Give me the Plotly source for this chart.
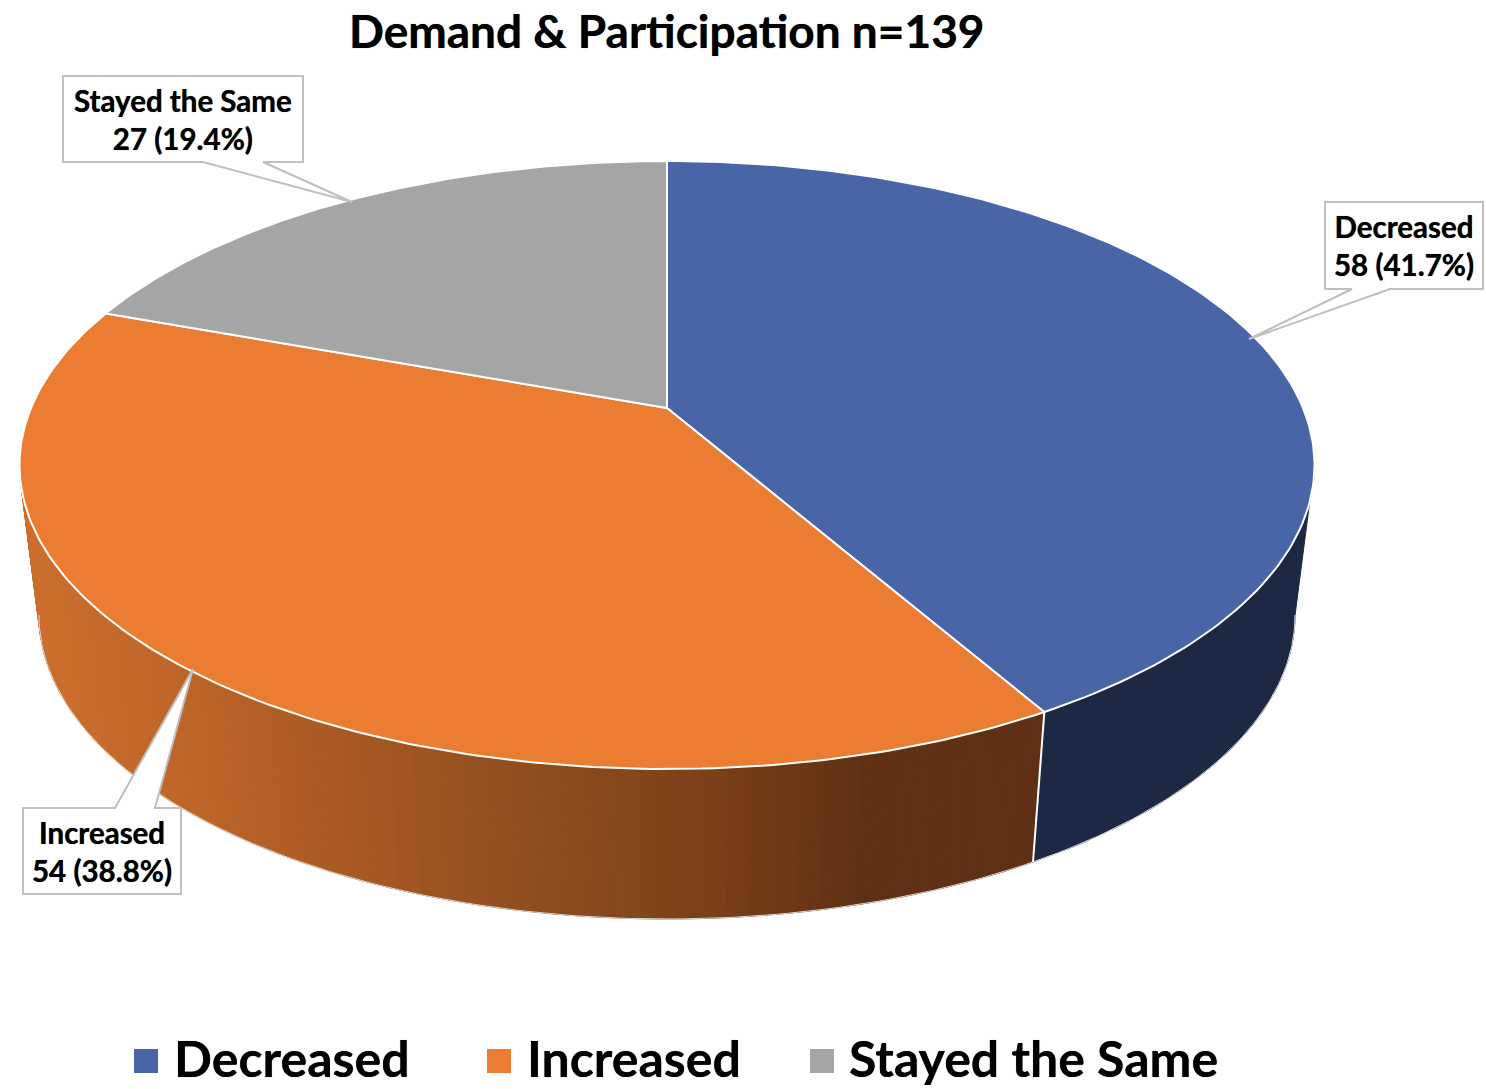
import numpy as np
import plotly.graph_objects as go

# ---- data ----
categories = ["Decreased", "Increased", "Stayed the Same"]
counts = [58, 54, 27]
percent_labels = ["41.7%", "38.8%", "19.4%"]
title_text = "Demand & Participation n=139"

# ---- style ----
top_colors = ["#4865A8", "#EB7D32", "#A5A5A5"]
navy_side = "#1D2944"
FONT = "Lato"
SHADOW = "0 0 0.7px rgba(0,0,0,0.8)"
W, H = 1486, 1089

# perspective camera (pixel space of the chart area)
CX, CY = 667.0, 408.0
FX, FY, K = 636.0, 293.3, 0.1875
BOTTOM_SCALE_X, BOTTOM_DROP = 0.97, 150.0


def project(theta_deg, bottom=False):
    t = np.radians(np.asarray(theta_deg, dtype=float))
    u, v = np.sin(t), np.cos(t)
    d = 1 + K * v
    x, y = FX * u / d, -FY * v / d
    if bottom:
        return CX + BOTTOM_SCALE_X * x, CY + BOTTOM_DROP + y
    return CX + x, CY + y


def lerp_hex(stops, x):
    xs = [s[0] for s in stops]
    rgb = [np.interp(x, xs, [int(s[1][i:i + 2], 16) for s in stops]) for i in (1, 3, 5)]
    return "rgb(%d,%d,%d)" % tuple(int(round(c)) for c in rgb)


orange_stops = [(30, "#CC6E2D"), (160, "#C0662A"), (300, "#AE5C25"), (500, "#934F1F"),
                (700, "#7C4119"), (870, "#5F3013"), (1040, "#5F3013")]

total = sum(counts)
edges = np.concatenate([[0], np.cumsum(counts)]) * 360.0 / total
fig = go.Figure()

# --- visible side wall ---
ang_right = np.degrees(np.arccos(-K))
ang_left = 360 - ang_right


def side_poly(a, b, n=40):
    th = np.linspace(a, b, n)
    xt, yt = project(th)
    xb, yb = project(th[::-1], bottom=True)
    return np.r_[xt, xb, xt[0]], np.r_[yt, yb, yt[0]]


sx, sy = side_poly(ang_right, edges[1])
fig.add_trace(go.Scatter(x=sx, y=sy, mode="lines", fill="toself", fillcolor=navy_side,
                         line=dict(color=navy_side, width=1), hoverinfo="skip", showlegend=False))

strips = np.linspace(edges[1], ang_left, 121)
for a, b in zip(strips[:-1], strips[1:]):
    px, py = side_poly(a, b, 3)
    c = lerp_hex(orange_stops, px[:3].mean())
    fig.add_trace(go.Scatter(x=px, y=py, mode="lines", fill="toself", fillcolor=c,
                             line=dict(color=c, width=1), hoverinfo="skip", showlegend=False))

# outer bottom edge
th = np.linspace(ang_right, ang_left, 200)
bx, by = project(th, bottom=True)
fig.add_trace(go.Scatter(x=bx, y=by, mode="lines", line=dict(color="#D9D9D9", width=1),
                         hoverinfo="skip", showlegend=False))

# seam between navy and orange walls
tx0, ty0 = project(edges[1])
bx0, by0 = project(edges[1], bottom=True)
fig.add_trace(go.Scatter(x=[tx0, bx0], y=[ty0, by0], mode="lines", line=dict(color="white", width=2),
                         hoverinfo="skip", showlegend=False))

# --- top face slices ---
for i, cat in enumerate(categories):
    th = np.linspace(edges[i], edges[i + 1], 160)
    ax, ay = project(th)
    fig.add_trace(go.Scatter(x=np.r_[CX, ax, CX], y=np.r_[CY, ay, CY], mode="lines", fill="toself",
                             fillcolor=top_colors[i], line=dict(color="white", width=2),
                             name=cat, hoverinfo="name", showlegend=False))

# --- legend, drawn at chart size ---
legend_marks = [146, 499, 822]
legend_text_x = [172, 525, 847]
fig.add_trace(go.Scatter(x=legend_marks, y=[1061] * 3, mode="markers",
                         marker=dict(symbol="square", size=24, color=top_colors),
                         hoverinfo="skip", showlegend=False))

annotations = [dict(x=667, y=30, text=f"<b>{title_text}</b>", showarrow=False,
                    font=dict(family=FONT, size=46, color="black", shadow=SHADOW),
                    xanchor="center", yanchor="middle")]
for x, cat in zip(legend_text_x, categories):
    annotations.append(dict(x=x, y=1058, text=f"<b>{cat}</b>", showarrow=False, xanchor="left", yanchor="middle",
                            font=dict(family=FONT, size=50, color="black", shadow=SHADOW)))

# --- callouts ---
callouts = [
    (1, 23, 181, 808, 894, [(115, 808), (193, 669), (155, 808)], 102),
    (0, 1325, 1483, 202, 289, [(1390, 289), (1249, 339), (1352, 289)], 1404),
    (2, 63, 303, 76, 162, [(263, 162), (352, 202), (203, 162)], 183),
]
shapes = []
for idx, l, r, t, b, ptr, tx in callouts:
    if ptr[0][1] == t:
        pts = [(l, t), *ptr, (r, t), (r, b), (l, b)]
    else:
        pts = [(l, t), (r, t), (r, b), *ptr, (l, b)]
    path = "M " + " L ".join(f"{p[0]},{p[1]}" for p in pts) + " Z"
    shapes.append(dict(type="path", path=path, fillcolor="white", line=dict(color="#BFBFBF", width=2),
                       layer="above", xref="x", yref="y"))
    annotations.append(dict(x=tx - 0.5, y=(t + b) / 2, showarrow=False, xanchor="center", yanchor="middle",
                            text=f"<b>{categories[idx]}<br>{counts[idx]} ({percent_labels[idx]})</b>",
                            align="center", font=dict(family=FONT, size=29.5, color="black", shadow=SHADOW)))

fig.update_layout(
    width=W, height=H, margin=dict(l=0, r=0, t=0, b=0), paper_bgcolor="white", plot_bgcolor="white",
    xaxis=dict(range=[0, W], visible=False, fixedrange=True),
    yaxis=dict(range=[H, 0], visible=False, fixedrange=True),
    annotations=annotations, shapes=shapes, showlegend=False,
)
fig.write_html("out.html", post_script="document.body.style.margin='0';", config={"displayModeBar": False})
